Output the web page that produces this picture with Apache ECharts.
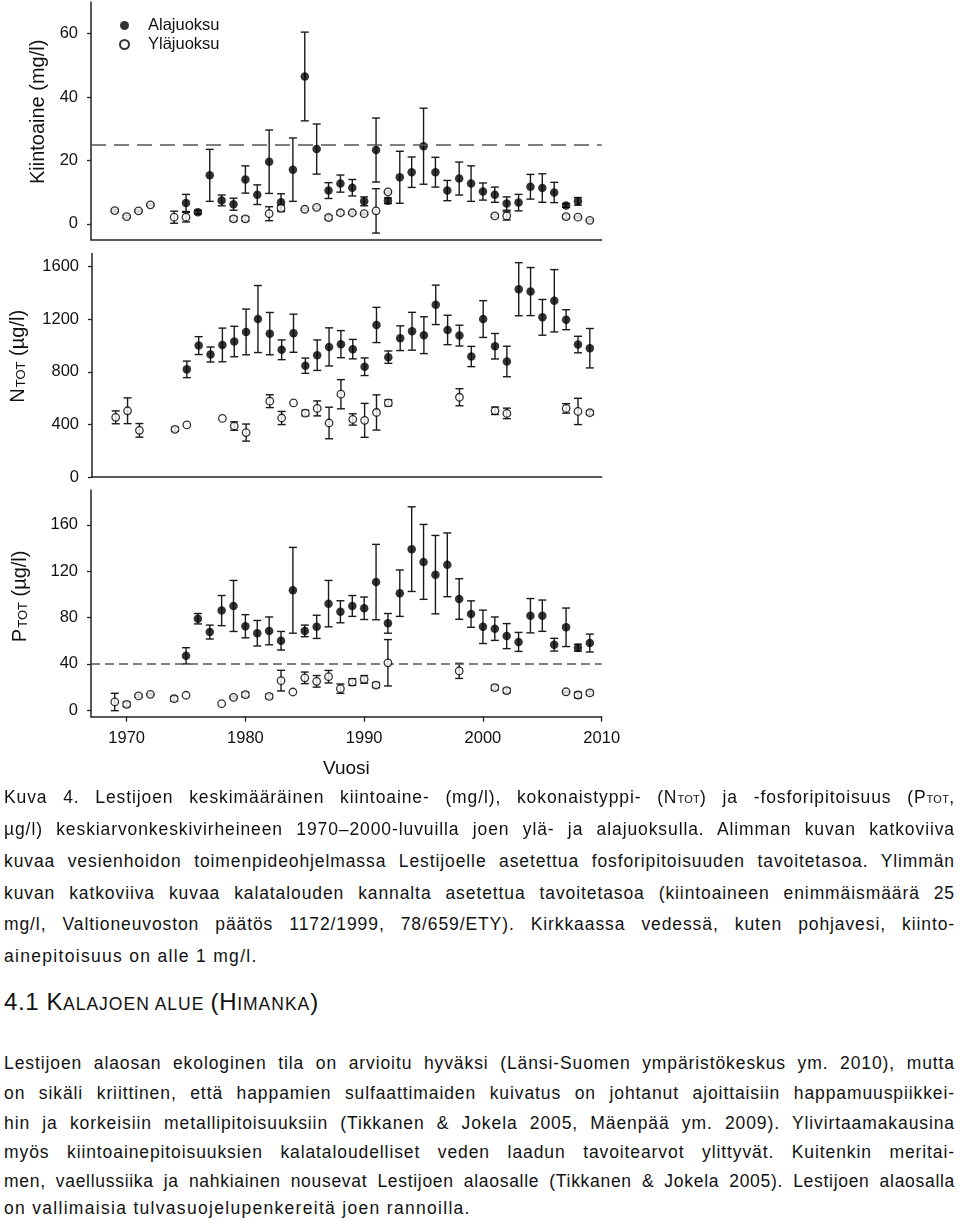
<!DOCTYPE html>
<html><head><meta charset="utf-8">
<script src="https://cdn.jsdelivr.net/npm/echarts@6/dist/echarts.min.js"></script>
<style>
html,body{margin:0;padding:0;background:#fff;overflow:hidden;}
#chart{position:absolute;left:0;top:0;width:960px;height:790px;}
.t{position:absolute;left:4px;width:951px;font-family:"Liberation Sans",Arial,sans-serif;font-size:17.5px;line-height:20px;color:#111;letter-spacing:1.3px;white-space:nowrap;}
.j{text-align:justify;text-align-last:justify;letter-spacing:0.9px;}
.sub{font-size:11px;letter-spacing:0.3px;}
.h{font-size:24px;letter-spacing:0.6px;}
.sc{font-size:17.5px;letter-spacing:1px;}
</style></head><body>
<div id="chart"></div>
<div class="t j" style="top:787px">Kuva 4. Lestijoen keskimääräinen kiintoaine- (mg/l), kokonaistyppi- (N<span class="sub">TOT</span>) ja -fosforipitoisuus (P<span class="sub">TOT</span>,</div>
<div class="t j" style="top:819px">µg/l) keskiarvonkeskivirheineen 1970–2000-luvuilla joen ylä- ja alajuoksulla. Alimman kuvan katkoviiva</div>
<div class="t j" style="top:851px">kuvaa vesienhoidon toimenpideohjelmassa Lestijoelle asetettua fosforipitoisuuden tavoitetasoa. Ylimmän</div>
<div class="t j" style="top:883px">kuvan katkoviiva kuvaa kalatalouden kannalta asetettua tavoitetasoa (kiintoaineen enimmäismäärä 25</div>
<div class="t j" style="top:914px">mg/l, Valtioneuvoston päätös 1172/1999, 78/659/ETY). Kirkkaassa vedessä, kuten pohjavesi, kiinto-</div>
<div class="t" style="top:946px">ainepitoisuus on alle 1 mg/l.</div>
<div class="t" style="top:992px"><span class="h">4.1 K</span><span class="sc">ALAJOEN ALUE</span> <span class="h">(H</span><span class="sc">IMANKA</span><span class="h">)</span></div>
<div class="t j" style="top:1053px">Lestijoen alaosan ekologinen tila on arvioitu hyväksi (Länsi-Suomen ympäristökeskus ym. 2010), mutta</div>
<div class="t j" style="top:1083px">on sikäli kriittinen, että happamien sulfaattimaiden kuivatus on johtanut ajoittaisiin happamuuspiikkei-</div>
<div class="t j" style="top:1113px">hin ja korkeisiin metallipitoisuuksiin (Tikkanen &amp; Jokela 2005, Mäenpää ym. 2009). Ylivirtaamakausina</div>
<div class="t j" style="top:1142px">myös kiintoainepitoisuuksien kalataloudelliset veden laadun tavoitearvot ylittyvät. Kuitenkin meritai-</div>
<div class="t j" style="top:1171px;letter-spacing:0.7px">men, vaellussiika ja nahkiainen nousevat Lestijoen alaosalle (Tikkanen &amp; Jokela 2005). Lestijoen alaosalla</div>
<div class="t" style="top:1198px">on vallimaisia tulvasuojelupenkereitä joen rannoilla.</div>
<script>
// ---- data ----
var years = [1969,1970,1971,1972,1973,1974,1975,1976,1977,1978,1979,1980,1981,1982,1983,1984,1985,1986,1987,1988,1989,1990,1991,1992,1993,1994,1995,1996,1997,1998,1999,2000,2001,2002,2003,2004,2005,2006,2007,2008,2009];

// Kiintoaine (mg/l)
var ssAla   = [null,null,null,null,null,null,6.6,3.7,15.3,7.4,6.2,14.0,9.2,19.6,6.8,17.1,46.5,23.6,10.5,12.7,11.4,7.1,23.3,7.3,14.7,16.3,24.5,16.3,10.5,14.3,12.7,10.2,9.2,6.4,6.7,11.7,11.3,9.9,5.8,7.1,null];
var ssAlaSe = [null,null,null,null,null,null,2.7,0.6,8.2,1.7,1.9,4.3,3.1,10.0,2.7,10.0,14.0,7.9,2.5,2.7,2.6,1.4,10.1,0.9,8.2,4.8,12.0,4.7,3.2,5.2,5.6,2.7,2.4,2.1,2.6,3.9,4.5,3.2,0.6,1.2,null];
var ssYla   = [4.2,2.3,4.1,6.0,null,2.1,2.1,null,null,null,1.6,1.6,null,3.2,4.9,null,4.6,5.2,2.0,3.5,3.5,3.2,4.1,10.1,null,null,null,null,null,null,null,null,2.5,2.5,null,null,null,null,2.3,2.1,1.1];
var ssYlaSe = [0.4,0.4,0.3,0.3,null,1.9,1.5,null,null,null,0.7,0.7,null,2.2,1.0,null,0.3,0.4,0.6,0.6,0.4,0.3,7.0,0.3,null,null,null,null,null,null,null,null,0.5,1.3,null,null,null,null,0.6,0.3,0.3];

// N_TOT (µg/l)
var nAla   = [null,null,null,null,null,null,819,1000,932,1005,1031,1104,1202,1091,968,1094,847,927,990,1011,973,839,1157,912,1056,1109,1079,1310,1119,1076,917,1202,995,879,1429,1411,1215,1341,1197,1008,980];
var nAlaSe = [null,null,null,null,null,null,63,68,57,128,116,174,255,161,75,145,58,116,145,103,74,67,134,47,94,144,140,150,112,79,77,140,97,116,202,183,136,237,76,63,150];
var nYla   = [454,504,355,null,null,363,396,null,null,446,388,338,null,577,449,564,486,522,411,630,438,431,491,564,null,null,null,null,null,607,null,null,504,484,null,null,null,null,522,499,489];
var nYlaSe = [49,98,52,null,null,15,0,null,null,0,32,65,null,49,50,0,21,57,120,111,43,129,134,23,null,null,null,null,null,65,null,null,28,40,null,null,null,null,36,100,15];

// P_TOT (µg/l)
var pAla   = [null,null,null,null,null,null,47,79,67.5,86,90,72.5,66.5,68.5,60,103.5,68.5,72,92,85,90,88,110.6,75,101,139,128,117,125.5,96,83,72,70.4,64,59,81.6,81.6,56.6,71.6,54,58];
var pAlaSe = [null,null,null,null,null,null,7,4.5,6,13,22,10,11,12,8,37,5,10,20,9.5,9,9.7,32.5,8.5,20,36.5,32.3,33.8,27.5,17.5,11.4,14.4,10.1,10.8,8.2,14.8,13.5,5.5,16.6,3,7.7];
var pYla   = [7.2,5.2,12.4,13.8,null,10,13,null,null,5.7,11.2,13.5,null,12,25.6,15.8,28,25,29,18.7,24.4,26.7,21.8,41,null,null,null,null,null,34,null,null,19.5,17,null,null,null,null,16,13.2,15];
var pYlaSe = [7.5,2,1.2,0.6,null,2,0,null,null,0,1,2,null,1.8,8.9,0,5,5,5.4,4,2.9,3.3,2.2,20,null,null,null,null,null,6.5,null,null,2,2,null,null,null,null,0.6,2.4,1.7];

var xTicks = [1970,1980,1990,2000,2010];
var ssTicks = [0,20,40,60];
var nTicks = [0,400,800,1200,1600];
var pTicks = [0,40,80,120,160];
var ssTarget = 25;
var pTarget = 40;
var seriesNames = ['Alajuoksu','Yläjuoksu'];

// ---- helpers ----
function pts(v){ var o=[]; for(var i=0;i<years.length;i++){ if(v[i]!=null) o.push([years[i],v[i]]); } return o; }
function errs(v,se){ var o=[]; for(var i=0;i<years.length;i++){ if(v[i]!=null && se[i]) o.push([years[i],v[i]-se[i],v[i]+se[i]]); } return o; }
function errRender(params, api){
  var x=api.value(0), lo=api.value(1), hi=api.value(2);
  var a=api.coord([x,hi]), b=api.coord([x,lo]);
  var w=4, st={stroke:'#1a1a1a', lineWidth:1.4, fill:null};
  return {type:'group', children:[
    {type:'line', shape:{x1:a[0],y1:a[1],x2:b[0],y2:b[1]}, style:st},
    {type:'line', shape:{x1:a[0]-w,y1:a[1],x2:a[0]+w,y2:a[1]}, style:st},
    {type:'line', shape:{x1:b[0]-w,y1:b[1],x2:b[0]+w,y2:b[1]}, style:st}
  ]};
}
var FONT = '"Liberation Sans", Arial, sans-serif';
var axisLineStyle = {color:'#222', width:1.5};
function plain(v){ return String(v); }

function xAx(i, bottom){
  return {
    type:'value', gridIndex:i, min:1967, max:2010,
    axisLine:{show:true, onZero:false, lineStyle:axisLineStyle},
    splitLine:{show:false},
    axisTick:{show:bottom, customValues:xTicks, length:5, lineStyle:{color:'#222', width:1.3}},
    axisLabel:{show:bottom, customValues:xTicks, formatter:plain, fontSize:16.5, color:'#111', fontFamily:FONT, margin:13},
    name: bottom ? 'Vuosi' : '', nameLocation:'middle', nameGap:43,
    nameTextStyle:{fontSize:19, color:'#111', fontFamily:FONT}
  };
}
function yAx(i, mn, mx, ticks, name, gap, pad){
  return {
    type:'value', gridIndex:i, min:mn, max:mx,
    axisLine:{show:true, onZero:false, lineStyle:axisLineStyle},
    splitLine:{show:false},
    axisTick:{show:true, customValues:ticks, length:4, lineStyle:{color:'#222', width:1.3}},
    axisLabel:{customValues:ticks, formatter:plain, fontSize:16.5, color:'#111', fontFamily:FONT, margin:13},
    name:name, nameLocation:'middle', nameRotate:90, nameGap:gap,
    nameTextStyle:{fontSize:20, color:'#111', fontFamily:FONT, padding:pad,
      rich:{a:{fontSize:20, color:'#111', fontFamily:FONT, verticalAlign:'bottom'},
            s:{fontSize:13, color:'#111', fontFamily:FONT, verticalAlign:'bottom', padding:[0,0,0,1]}}}
  };
}

var panels = [
  {ala:ssAla, alaSe:ssAlaSe, yla:ssYla, ylaSe:ssYlaSe, target:ssTarget, dash:[15,8]},
  {ala:nAla, alaSe:nAlaSe, yla:nYla, ylaSe:nYlaSe, target:null},
  {ala:pAla, alaSe:pAlaSe, yla:pYla, ylaSe:pYlaSe, target:pTarget, dash:[9,5]}
];

var series = [];
panels.forEach(function(p, i){
  series.push({type:'custom', xAxisIndex:i, yAxisIndex:i, renderItem:errRender, data:errs(p.yla,p.ylaSe), encode:{x:0,y:[1,2]}, silent:true, z:2});
  series.push({type:'custom', xAxisIndex:i, yAxisIndex:i, renderItem:errRender, data:errs(p.ala,p.alaSe), encode:{x:0,y:[1,2]}, silent:true, z:2});
  var ala = {type:'scatter', name:seriesNames[0], xAxisIndex:i, yAxisIndex:i, data:pts(p.ala), symbol:'circle', symbolSize:8.5,
    itemStyle:{color:'#000'}, z:4, silent:true};
  if(p.target!=null){
    ala.markLine = {silent:true, symbol:'none', label:{show:false}, animation:false,
      lineStyle:{type:p.dash, color:'#555', width:1.5},
      data:[[{coord:[1967,p.target]},{coord:[2010,p.target]}]]};
  }
  series.push(ala);
  series.push({type:'scatter', name:seriesNames[1], xAxisIndex:i, yAxisIndex:i, data:pts(p.yla), symbol:'circle', symbolSize:7.5,
    itemStyle:{color:'#fff', borderColor:'#000', borderWidth:1.3}, z:5, silent:true});
});

var chart = echarts.init(document.getElementById('chart'), null, {renderer:'canvas'});
chart.setOption({
  animation:false,
  backgroundColor:'#fff',
  textStyle:{fontFamily:FONT},
  legend:{data:seriesNames, orient:'vertical', left:114, top:12, itemWidth:9, itemHeight:9, itemGap:2,
    textStyle:{fontSize:16.5, color:'#111', fontFamily:FONT, padding:[0,0,0,14]}, selectedMode:false},
  grid:[
    {left:91, width:510.7, top:2, height:237.7},
    {left:91, width:510.7, top:253.6, height:223.4},
    {left:91, width:510.7, top:490, height:226.7}
  ],
  xAxis:[xAx(0,false), xAx(1,false), xAx(2,true)],
  yAxis:[
    yAx(0,-5,70,ssTicks,'Kiintoaine (mg/l)',40,[0,0,0,18]),
    yAx(1,0,1700,nTicks,'{a|N}{s|TOT}{a| (µg/l)}',64,[0,0,0,18]),
    yAx(2,-5.5,190,pTicks,'{a|P}{s|TOT}{a| (µg/l)}',61,[0,0,0,14])
  ],
  series:series
});
</script>
</body></html>
